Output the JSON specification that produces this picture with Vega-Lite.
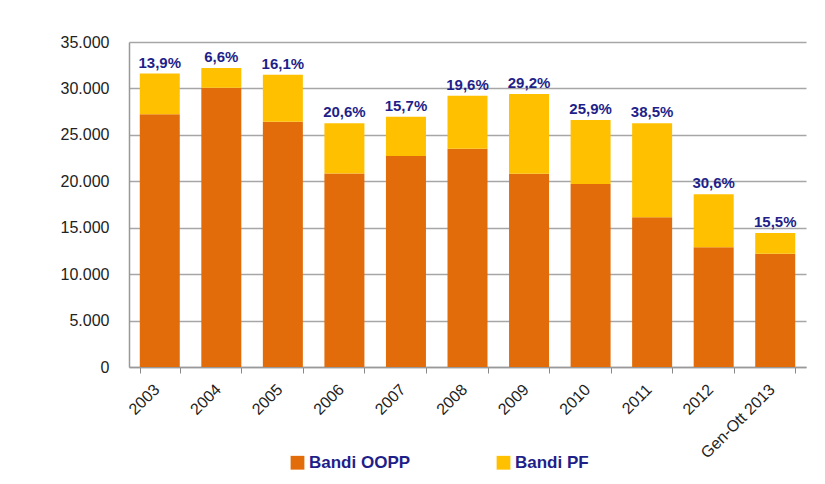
{
  "$schema": "https://vega.github.io/schema/vega-lite/v6.json",
  "width": 677,
  "height": 325,
  "padding": {"left": 60, "top": 34, "right": 15, "bottom": 5},
  "background": "white",
  "config": {
    "locale": {"number": {"decimal": ",", "thousands": ".", "grouping": [3], "currency": ["", " €"]}},
    "font": "Liberation Sans",
    "view": {"stroke": null}
  },
  "datasets": {
    "segments": [
      {"anno": "2003", "serie": "Bandi OOPP", "valore": 27208},
      {"anno": "2003", "serie": "Bandi PF", "valore": 4392},
      {"anno": "2004", "serie": "Bandi OOPP", "valore": 30075},
      {"anno": "2004", "serie": "Bandi PF", "valore": 2125},
      {"anno": "2005", "serie": "Bandi OOPP", "valore": 26412},
      {"anno": "2005", "serie": "Bandi PF", "valore": 5068},
      {"anno": "2006", "serie": "Bandi OOPP", "valore": 20838},
      {"anno": "2006", "serie": "Bandi PF", "valore": 5406},
      {"anno": "2007", "serie": "Bandi OOPP", "valore": 22723},
      {"anno": "2007", "serie": "Bandi PF", "valore": 4232},
      {"anno": "2008", "serie": "Bandi OOPP", "valore": 23491},
      {"anno": "2008", "serie": "Bandi PF", "valore": 5727},
      {"anno": "2009", "serie": "Bandi OOPP", "valore": 20815},
      {"anno": "2009", "serie": "Bandi PF", "valore": 8585},
      {"anno": "2010", "serie": "Bandi OOPP", "valore": 19711},
      {"anno": "2010", "serie": "Bandi PF", "valore": 6889},
      {"anno": "2011", "serie": "Bandi OOPP", "valore": 16140},
      {"anno": "2011", "serie": "Bandi PF", "valore": 10104},
      {"anno": "2012", "serie": "Bandi OOPP", "valore": 12907},
      {"anno": "2012", "serie": "Bandi PF", "valore": 5691},
      {"anno": "Gen-Ott 2013", "serie": "Bandi OOPP", "valore": 12193},
      {"anno": "Gen-Ott 2013", "serie": "Bandi PF", "valore": 2237}
    ],
    "totals": [
      {"anno": "2003", "totale": 31600, "quota": "13,9%"},
      {"anno": "2004", "totale": 32200, "quota": "6,6%"},
      {"anno": "2005", "totale": 31480, "quota": "16,1%"},
      {"anno": "2006", "totale": 26244, "quota": "20,6%"},
      {"anno": "2007", "totale": 26955, "quota": "15,7%"},
      {"anno": "2008", "totale": 29218, "quota": "19,6%"},
      {"anno": "2009", "totale": 29400, "quota": "29,2%"},
      {"anno": "2010", "totale": 26600, "quota": "25,9%"},
      {"anno": "2011", "totale": 26244, "quota": "38,5%"},
      {"anno": "2012", "totale": 18598, "quota": "30,6%"},
      {"anno": "Gen-Ott 2013", "totale": 14430, "quota": "15,5%"}
    ]
  },
  "layer": [
    {
      "data": {"name": "segments"},
      "mark": {"type": "bar"},
      "encoding": {
        "x": {
          "field": "anno", "type": "nominal", "sort": null,
          "scale": {"paddingInner": 0.35, "paddingOuter": 0.175},
          "axis": {
            "title": null, "labelAngle": -45, "labelFontSize": 16, "labelColor": "#222222",
            "tickBand": "extent", "ticks": true, "tickColor": "#888888", "tickSize": 6,
            "domainColor": "#999999", "domainWidth": 1.5, "labelPadding": 8, "labelOffset": -9
          }
        },
        "y": {
          "field": "valore", "type": "quantitative", "aggregate": "sum", "stack": "zero",
          "scale": {"domain": [0, 35000]},
          "axis": {
            "title": null, "values": [0, 5000, 10000, 15000, 20000, 25000, 30000, 35000],
            "format": ",.0f", "labelFontSize": 16, "labelColor": "#222222", "labelPadding": 20,
            "ticks": false, "gridColor": "#a6a6a6", "gridWidth": 1.5,
            "domainColor": "#999999", "domainWidth": 1.5
          }
        },
        "color": {
          "field": "serie", "type": "nominal",
          "scale": {"domain": ["Bandi OOPP", "Bandi PF"], "range": ["#E36C0A", "#FFC000"]},
          "legend": {
            "title": null, "orient": "none", "legendX": 160, "legendY": 412, "direction": "horizontal",
            "symbolType": "square", "symbolSize": 190, "symbolStrokeWidth": 0, "symbolOffset": 0,
            "labelFontSize": 17, "labelFontWeight": "bold", "labelColor": "#1F1F8A", "labelOffset": 3,
            "columnPadding": 84
          }
        },
        "order": {"field": "serie", "sort": "ascending"}
      }
    },
    {
      "data": {"name": "totals"},
      "mark": {"type": "text", "dy": -11, "fontSize": 15, "fontWeight": "bold", "color": "#1F1F8A"},
      "encoding": {
        "x": {"field": "anno", "type": "nominal", "sort": null},
        "y": {"field": "totale", "type": "quantitative"},
        "text": {"field": "quota", "type": "nominal"}
      }
    }
  ]
}
